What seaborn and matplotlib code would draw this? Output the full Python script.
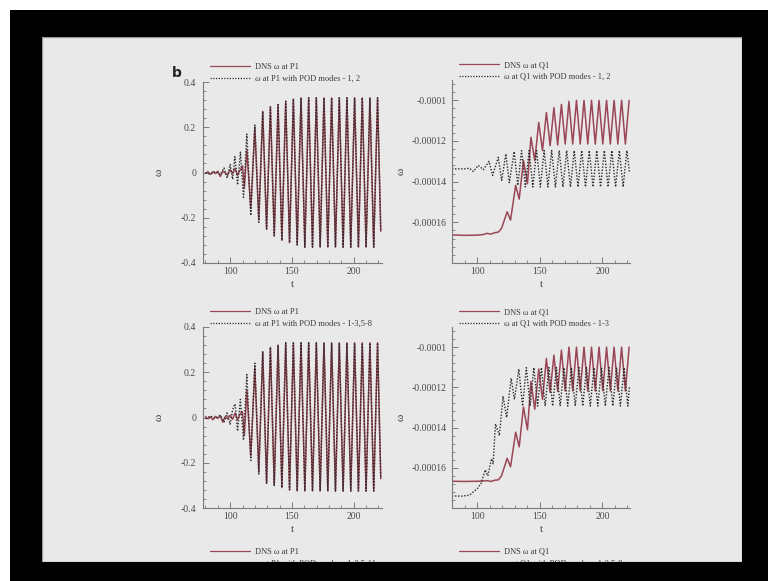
import matplotlib.pyplot as plt
import seaborn as sns
from matplotlib.lines import Line2D
from matplotlib.patches import Rectangle
from matplotlib.ticker import FixedLocator, MultipleLocator, FuncFormatter

# ---- data ----
# P1 oscillation extrema times (peak, trough, peak, ...), shared by both P1 panels
p1_osc_t = [113.5, 116.7, 120.0, 123.2, 126.4, 129.5, 132.6, 135.7, 138.8, 141.9,
            145.0, 148.1, 151.2, 154.3, 157.4, 160.5, 163.6, 166.7, 169.8, 172.9,
            176.0, 179.1, 182.2, 185.3, 188.4, 191.5, 194.6, 197.7, 200.8, 203.9,
            207.0, 210.1, 213.2, 216.3, 219.4, 222.0]

# top left: P1, POD modes 1, 2
p1a_dns_t0 = [80, 82, 84, 86, 88, 90, 92, 94, 96, 98, 100, 102, 104, 106, 108, 110, 111.5]
p1a_dns_w0 = [-0.004, 0.003, -0.008, 0.004, -0.005, 0.006, -0.018, 0.005, -0.002, -0.01,
              0.012, -0.004, 0.018, -0.012, 0.01, 0.03, -0.07]
p1a_dns_osc = [0.10, -0.16, 0.20, -0.21, 0.27, -0.25, 0.29, -0.28, 0.30, -0.30,
               0.315, -0.31, 0.325, -0.32, 0.33, -0.33, 0.33, -0.33, 0.33, -0.33,
               0.33, -0.33, 0.33, -0.33, 0.33, -0.33, 0.33, -0.33, 0.33, -0.33,
               0.33, -0.33, 0.33, -0.33, 0.33, -0.26]
p1a_pod_t0 = [80, 84, 88, 92, 95, 97.5, 100, 102, 103.8, 106, 108.3, 110.8]
p1a_pod_w0 = [0.0, -0.008, 0.004, -0.01, 0.02, -0.025, 0.035, -0.03, 0.07, -0.055, 0.09, -0.11]
p1a_pod_osc = [0.17, -0.19, 0.21, -0.22, 0.27, -0.25, 0.29, -0.28, 0.30, -0.30,
               0.315, -0.31, 0.325, -0.32, 0.33, -0.33, 0.33, -0.33, 0.33, -0.33,
               0.33, -0.33, 0.33, -0.33, 0.33, -0.33, 0.33, -0.33, 0.33, -0.33,
               0.33, -0.33, 0.33, -0.33, 0.33, -0.26]

# bottom left: P1, POD modes 1-3,5-8
p1b_dns_t0 = [80, 82, 84, 86, 88, 90, 92, 94, 96, 98, 100, 102, 104, 106, 108, 110, 111.5]
p1b_dns_w0 = [0.004, -0.006, 0.003, -0.01, 0.005, -0.004, 0.008, -0.02, 0.004, -0.006,
              0.01, -0.008, 0.02, -0.01, 0.015, 0.025, -0.08]
p1b_dns_osc = [0.12, -0.17, 0.22, -0.24, 0.29, -0.29, 0.31, -0.30, 0.32, -0.31,
               0.33, -0.32, 0.33, -0.325, 0.33, -0.325, 0.33, -0.325, 0.33, -0.325,
               0.33, -0.325, 0.33, -0.325, 0.33, -0.325, 0.33, -0.325, 0.33, -0.325,
               0.33, -0.325, 0.33, -0.325, 0.33, -0.27]
p1b_pod_t0 = [80, 84, 88, 92, 95, 97.5, 100, 102, 104.0, 106, 108.3, 110.8]
p1b_pod_w0 = [-0.005, 0.006, -0.004, 0.01, -0.02, 0.02, -0.03, 0.035, 0.06, -0.06, 0.08, -0.10]
p1b_pod_osc = [0.19, -0.19, 0.24, -0.25, 0.29, -0.29, 0.31, -0.30, 0.32, -0.31,
               0.33, -0.32, 0.33, -0.325, 0.33, -0.325, 0.33, -0.325, 0.33, -0.325,
               0.33, -0.325, 0.33, -0.325, 0.33, -0.325, 0.33, -0.325, 0.33, -0.325,
               0.33, -0.325, 0.33, -0.325, 0.33, -0.27]

# top right: Q1, POD modes 1, 2
q1a_dns_t = [80, 90, 100, 105, 108, 111, 114, 117, 119.5, 124.0, 126.7, 130.8, 133.6,
             137.0, 140.2, 143.0, 146.0, 149.2, 152.2, 155.3, 158.3, 161.3, 164.3, 167.3,
             170.3, 173.3, 176.3, 179.3, 182.3, 185.3, 188.3, 191.3, 194.3, 197.3, 200.3,
             203.3, 206.3, 209.3, 212.3, 215.3, 218.3, 221.3]
q1a_dns_w = [-1.662e-4, -1.664e-4, -1.663e-4, -1.660e-4, -1.654e-4, -1.658e-4, -1.651e-4,
             -1.648e-4, -1.630e-4, -1.548e-4, -1.589e-4, -1.418e-4, -1.486e-4, -1.296e-4,
             -1.410e-4, -1.182e-4, -1.296e-4, -1.109e-4, -1.247e-4, -1.060e-4, -1.223e-4,
             -1.036e-4, -1.220e-4, -1.020e-4, -1.215e-4, -1.005e-4, -1.215e-4, -1.000e-4,
             -1.215e-4, -1.000e-4, -1.215e-4, -1.000e-4, -1.215e-4, -1.000e-4, -1.215e-4,
             -1.000e-4, -1.215e-4, -1.000e-4, -1.215e-4, -1.000e-4, -1.215e-4, -1.000e-4]
q1a_pod_t = [80, 90, 94, 97, 101, 105, 109.5, 112.4, 116.9, 119.6, 123.0, 125.7, 129.6,
             132.5, 135.5, 138.5, 141.5, 144.5, 147.5, 150.5, 153.5, 156.5, 159.5, 162.5,
             165.5, 168.5, 171.5, 174.5, 177.5, 180.5, 183.5, 186.5, 189.5, 192.5, 195.5,
             198.5, 201.5, 204.5, 207.5, 210.5, 213.5, 216.5, 219.5, 221.5]
q1a_pod_w = [-1.337e-4, -1.337e-4, -1.334e-4, -1.350e-4, -1.320e-4, -1.341e-4, -1.300e-4,
             -1.369e-4, -1.280e-4, -1.394e-4, -1.263e-4, -1.405e-4, -1.252e-4, -1.418e-4,
             -1.247e-4, -1.426e-4, -1.247e-4, -1.426e-4, -1.247e-4, -1.426e-4, -1.247e-4,
             -1.426e-4, -1.247e-4, -1.426e-4, -1.247e-4, -1.426e-4, -1.247e-4, -1.426e-4,
             -1.247e-4, -1.426e-4, -1.247e-4, -1.426e-4, -1.247e-4, -1.426e-4, -1.247e-4,
             -1.426e-4, -1.247e-4, -1.426e-4, -1.247e-4, -1.426e-4, -1.247e-4, -1.426e-4,
             -1.247e-4, -1.350e-4]

# bottom right: Q1, POD modes 1-3
q1b_dns_t = q1a_dns_t
q1b_dns_w = [-1.667e-4, -1.668e-4, -1.667e-4, -1.666e-4, -1.664e-4, -1.668e-4, -1.662e-4,
             -1.660e-4, -1.640e-4, -1.553e-4, -1.595e-4, -1.423e-4, -1.496e-4, -1.298e-4,
             -1.411e-4, -1.171e-4, -1.309e-4, -1.109e-4, -1.260e-4, -1.057e-4, -1.225e-4,
             -1.040e-4, -1.220e-4, -1.015e-4, -1.218e-4, -1.000e-4, -1.218e-4, -1.000e-4,
             -1.218e-4, -1.000e-4, -1.218e-4, -1.000e-4, -1.218e-4, -1.000e-4, -1.218e-4,
             -1.000e-4, -1.218e-4, -1.000e-4, -1.218e-4, -1.000e-4, -1.218e-4, -1.000e-4]
q1b_pod_t = [80, 88, 94, 97, 100, 103, 106.6, 108.6, 111.5, 112.8, 114.7, 117.8, 120.7,
             123.6, 127.2, 129.8, 133.3, 136.3, 139.3, 142.3, 145.3, 148.3, 151.3, 154.3,
             157.3, 160.3, 163.3, 166.3, 169.3, 172.3, 175.3, 178.3, 181.3, 184.3, 187.3,
             190.3, 193.3, 196.3, 199.3, 202.3, 205.3, 208.3, 211.3, 214.3, 217.3, 220.3, 221.5]
q1b_pod_w = [-1.740e-4, -1.741e-4, -1.736e-4, -1.720e-4, -1.705e-4, -1.680e-4, -1.610e-4,
             -1.640e-4, -1.555e-4, -1.580e-4, -1.382e-4, -1.440e-4, -1.244e-4, -1.350e-4,
             -1.155e-4, -1.260e-4, -1.109e-4, -1.293e-4, -1.102e-4, -1.293e-4, -1.102e-4,
             -1.293e-4, -1.102e-4, -1.293e-4, -1.102e-4, -1.293e-4, -1.102e-4, -1.293e-4,
             -1.102e-4, -1.293e-4, -1.102e-4, -1.293e-4, -1.102e-4, -1.293e-4, -1.102e-4,
             -1.293e-4, -1.102e-4, -1.293e-4, -1.102e-4, -1.293e-4, -1.102e-4, -1.293e-4,
             -1.102e-4, -1.293e-4, -1.102e-4, -1.293e-4, -1.200e-4]

legend_tl = ["DNS ω at P1", "ω at P1 with POD modes - 1, 2"]
legend_tr = ["DNS ω at Q1", "ω at Q1 with POD modes - 1, 2"]
legend_bl = ["DNS ω at P1", "ω at P1 with POD modes - 1-3,5-8"]
legend_br = ["DNS ω at Q1", "ω at Q1 with POD modes - 1-3"]
legend_cut_l = ["DNS ω at P1", "ω at P1 with POD modes - 1-3,5-11"]
legend_cut_r = ["DNS ω at Q1", "ω at Q1 with POD modes - 1-3,5-8"]

p1_yticks = [-0.4, -0.2, 0, 0.2, 0.4]
q1_yticks = [-1.6e-4, -1.4e-4, -1.2e-4, -1.0e-4]

# ---- styling ----
sns.set_style("ticks")
plt.rcParams['font.family'] = ['Liberation Serif', 'DejaVu Serif']
plt.rcParams['axes.unicode_minus'] = False

DNS_COLOR = "#9a4656"
POD_COLOR = "#2a2a2a"
DOT = (0, (1, 1.2))
W, H = 768, 581


def px(x, y, w, h):
    return [x / W, 1 - (y + h) / H, w / W, h / H]


fig = plt.figure(figsize=(7.68, 5.81), dpi=100, facecolor="white")

# slide background and black screen frame
fig.add_artist(Rectangle((42 / W, 1 - 562 / H), 700 / W, 525 / H, transform=fig.transFigure,
                         facecolor="#e9e9e9", edgecolor="#9a9a9a", lw=1, zorder=-10))
for (x, y, w, h) in [(10, 10, 758, 27), (10, 10, 32, 571), (742, 10, 26, 571), (10, 562, 758, 19)]:
    r = px(x, y, w, h)
    fig.add_artist(Rectangle((r[0], r[1]), r[2], r[3], transform=fig.transFigure,
                             facecolor="black", edgecolor="none", zorder=20))


def draw_panel(rect, dns_t, dns_w, pod_t, pod_w, labels, xlim, ylim, yticks, yminor, ypad, lab_pad):
    ax = fig.add_axes(px(*rect))
    ax.set_facecolor("none")
    sns.lineplot(x=dns_t, y=dns_w, ax=ax, color=DNS_COLOR, lw=1.1, estimator=None, sort=False)
    sns.lineplot(x=pod_t, y=pod_w, ax=ax, color=POD_COLOR, lw=1.0, linestyle=DOT,
                 estimator=None, sort=False)
    ax.set_xlim(*xlim)
    ax.set_ylim(*ylim)
    for s in ["top", "right"]:
        ax.spines[s].set_visible(False)
    for s in ["left", "bottom"]:
        ax.spines[s].set_color("#7a7a7a")
        ax.spines[s].set_linewidth(0.8)
    ax.xaxis.set_major_locator(FixedLocator([100, 150, 200]))
    ax.xaxis.set_minor_locator(MultipleLocator(10))
    ax.yaxis.set_major_locator(FixedLocator(yticks))
    ax.yaxis.set_minor_locator(MultipleLocator(yminor))
    fmt = FuncFormatter(lambda v, p: "%g" % v)
    ax.xaxis.set_major_formatter(fmt)
    ax.yaxis.set_major_formatter(fmt)
    ax.tick_params(which="both", direction="in", color="#7a7a7a", labelcolor="#4a4a4a", labelsize=7)
    ax.tick_params(which="major", length=4, width=0.7)
    ax.tick_params(which="minor", length=2, width=0.6)
    ax.tick_params(axis="y", pad=ypad)
    ax.tick_params(axis="x", pad=3)
    ax.set_xlabel("t", fontsize=8, color="#3a3a3a", labelpad=3)
    ax.set_ylabel("ω", fontsize=8, color="#3a3a3a", labelpad=lab_pad)
    handles = [Line2D([], [], color=DNS_COLOR, lw=0.9), Line2D([], [], color=POD_COLOR, lw=0.9, linestyle=DOT)]
    ax.legend(handles, labels, loc="lower left", bbox_to_anchor=(0.04, 0.995), frameon=False,
              fontsize=6, borderpad=0, borderaxespad=0, handlelength=4.8, handletextpad=0.6,
              labelspacing=0.45, labelcolor="#3a3a3a")
    return ax, handles


lim_p1 = (-0.4, 0.4)
lim_q1 = (-1.8e-4, -0.9e-4)

draw_panel((203, 82, 179, 181), p1a_dns_t0 + p1_osc_t, p1a_dns_w0 + p1a_dns_osc,
           p1a_pod_t0 + p1_osc_t, p1a_pod_w0 + p1a_pod_osc, legend_tl,
           (78, 223), lim_p1, p1_yticks, 0.04, 5, 12)
draw_panel((452, 80, 178, 183), q1a_dns_t, q1a_dns_w, q1a_pod_t, q1a_pod_w, legend_tr,
           (80, 222), lim_q1, q1_yticks, 4e-6, 4, 4)
ax_bl, h_bl = draw_panel((203, 327, 179, 181), p1b_dns_t0 + p1_osc_t, p1b_dns_w0 + p1b_dns_osc,
                         p1b_pod_t0 + p1_osc_t, p1b_pod_w0 + p1b_pod_osc, legend_bl,
                         (78, 223), lim_p1, p1_yticks, 0.04, 5, 12)
ax_br, h_br = draw_panel((452, 327, 178, 181), q1b_dns_t, q1b_dns_w, q1b_pod_t, q1b_pod_w, legend_br,
                         (80, 222), lim_q1, q1_yticks, 4e-6, 4, 4)

# legends of the next row of panels, cut off by the screen edge
for ax, h, labels in [(ax_bl, h_bl, legend_cut_l), (ax_br, h_br, legend_cut_r)]:
    first = ax.get_legend()
    ax.add_artist(first)
    ax.legend(h, labels, loc="upper left", bbox_to_anchor=(0.04, -0.22), frameon=False,
              fontsize=6, borderpad=0, borderaxespad=0, handlelength=4.8, handletextpad=0.6,
              labelspacing=0.45, labelcolor="#3a3a3a")

fig.text(177 / W, 1 - 73 / H, "b", fontsize=10, fontweight="bold", family="DejaVu Sans",
         color="#222222", ha="center", va="center")

fig.savefig("out.png", dpi=100, facecolor="white")
